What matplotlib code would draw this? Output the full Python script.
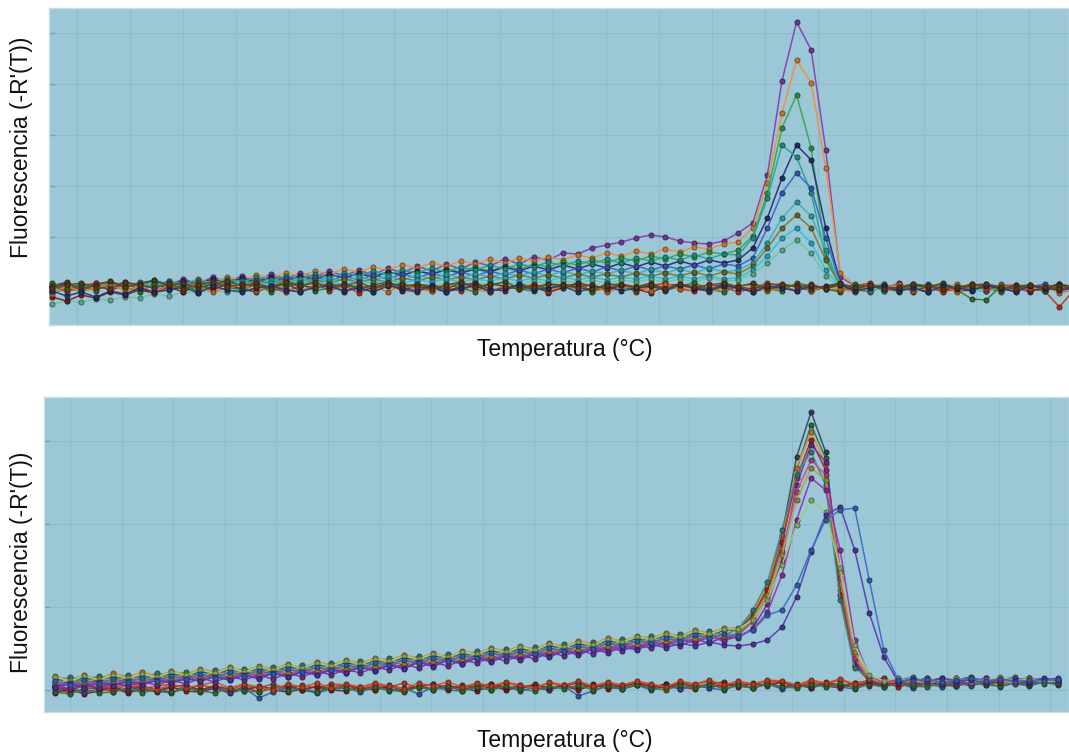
import numpy as np
import matplotlib
matplotlib.use("Agg")
import matplotlib.pyplot as plt

# ---------------- data ----------------
# temperature grid (deg C), 0.5 deg steps
temp_top = [60 + 0.5 * k for k in range(71)]
temp_bottom = [60 + 0.5 * k for k in range(70)]

# ---- top panel: positive samples (-dF/dT, arbitrary units) ----
top_pos_1 = [0, 4, -2, 5, 1, 6, 2, 8, 3, 9,
             4, 11, 6, 12, 7, 14, 9, 15, 11, 17,
             12, 18, 13, 20, 15, 22, 17, 24, 19, 26,
             22, 29, 24, 31, 28, 35, 34, 40, 43, 46,
             50, 53, 51, 47, 45, 44, 47, 55, 65, 113,
             207, 266, 238, 138, 11, 2, -3, 3, -1, 4,
             -2, 3, -1, 4, -3, 2, 0, -4, 3, -1,
             2]
top_pos_2 = [-3, 2, -1, 4, 2, 0, 5, 2, 7, 4,
             9, 6, 11, 8, 13, 10, 15, 12, 17, 14,
             19, 16, 21, 18, 23, 20, 25, 22, 27, 24,
             29, 25, 30, 27, 31, 28, 33, 30, 35, 32,
             37, 34, 39, 36, 41, 39, 44, 46, 60, 105,
             175, 228, 205, 120, 15, 3, -2, 4, -1, 2,
             -3, 1, 4, -1, -3, 2, 3, -2, 1, 4,
             0]
top_pos_3 = [-5, -1, -3, 3, -2, 4, 0, 5, 1, 6,
             2, 7, 4, 8, 5, 10, 7, 11, 8, 13,
             10, 14, 11, 16, 13, 17, 14, 19, 16, 21,
             17, 22, 19, 24, 21, 26, 23, 28, 25, 30,
             27, 32, 29, 34, 31, 36, 34, 38, 52, 95,
             160, 193, 140, 35, 3, -1, -4, 2, -2, 1,
             3, -2, -1, 4, -2, 2, -3, 1, 3, -2,
             0]
top_pos_4 = [1, 5, 0, 4, 6, 1, 5, 7, 3, 7,
             4, 9, 5, 10, 6, 11, 8, 12, 9, 14,
             10, 15, 11, 16, 13, 17, 14, 18, 15, 19,
             16, 21, 17, 22, 18, 23, 19, 24, 20, 25,
             21, 26, 22, 27, 23, 28, 25, 28, 40, 70,
             110, 143, 128, 60, 5, -2, 3, -3, 4, -1,
             -4, 2, 1, -3, 4, -1, -3, 2, 0, 4,
             -1]
top_pos_5 = [-2, 2, 3, 0, 5, 1, 6, 2, 7, 4,
             8, 5, 9, 6, 11, 8, 12, 9, 14, 10,
             15, 12, 17, 13, 18, 15, 20, 16, 21, 18,
             23, 19, 24, 21, 26, 22, 27, 24, 29, 25,
             30, 27, 31, 28, 33, 29, 34, 33, 50, 90,
             143, 131, 95, 30, 2, -3, 1, 4, -3, 1,
             3, -2, -1, 3, 1, -4, 2, 0, -3, 3,
             0]
top_pos_6 = [2, -2, 4, -1, 3, 5, 1, 4, 6, 2,
             6, 3, 7, 4, 8, 5, 10, 6, 11, 7,
             12, 8, 13, 9, 14, 10, 15, 11, 16, 12,
             17, 13, 18, 14, 19, 15, 20, 16, 21, 17,
             22, 18, 22, 19, 23, 19, 24, 22, 30, 60,
             95, 115, 100, 50, 4, -2, -3, 2, 1, -3,
             4, 0, -3, 2, -1, 3, -2, 1, 4, -3,
             0]
top_pos_7 = [-4, 0, -2, 3, -1, 4, 0, 5, 1, 5,
             2, 6, 3, 7, 4, 8, 5, 9, 6, 10,
             7, 11, 8, 12, 8, 13, 9, 14, 10, 14,
             11, 15, 12, 16, 12, 17, 13, 17, 14, 18,
             14, 19, 15, 19, 15, 20, 16, 18, 25, 45,
             70, 86, 72, 38, 3, -2, 3, -3, 1, 3,
             -1, -3, 2, 0, -3, 4, 1, 2, -3, 1,
             2]
top_pos_8 = [1, -1, 1, 3, -1, 3, 4, 0, 5, 2,
             5, 2, 6, 3, 7, 4, 7, 4, 8, 5,
             9, 6, 9, 6, 10, 7, 11, 8, 11, 8,
             12, 9, 13, 10, 13, 10, 14, 11, 14, 11,
             15, 12, 15, 12, 16, 12, 16, 14, 22, 40,
             60, 73, 60, 28, 2, -2, -3, 3, -1, 1,
             2, -3, 1, 3, -1, -3, 2, 0, -2, 3,
             -2]
top_pos_9 = [-3, 1, -2, 2, -1, 3, 0, 3, 1, 4,
             1, 4, 2, 5, 2, 5, 3, 6, 4, 6,
             4, 7, 5, 8, 5, 8, 6, 9, 6, 9,
             7, 10, 7, 10, 7, 11, 8, 11, 8, 11,
             9, 12, 9, 12, 9, 12, 9, 10, 18, 32,
             50, 60, 45, 18, 1, -2, 2, -3, 1, 3,
             -3, 1, 2, -2, -3, 1, 3, -1, -2, 2,
             0]
top_pos_10 = [-16, -13, -14, -11, -12, -9, -10, -6, -8, -4,
              -5, -2, -4, -1, -2, 0, -1, 1, 0, 2,
              1, 3, 1, 4, 2, 4, 2, 5, 3, 6,
              3, 6, 4, 7, 4, 7, 5, 8, 5, 8,
              6, 9, 6, 9, 6, 10, 7, 8, 14, 25,
              38, 48, 35, 12, 0, 2, -2, 1, 2, -1,
              -2, 2, 0, 1, -3, 2, 0, -2, 1, 2,
              0]

# ---- top panel: negative samples ----
top_neg_1 = [3, -4, 2, 5, -3, 4, -1, -4, 3, 5,
             -4, 1, 4, -2, 5, 0, -4, 2, 5, -3,
             3, -5, 1, 4, -2, -4, 3, 0, -3, 4,
             -4, 2, -1, 4, -5, 2, 4, -3, 0, 3,
             -4, 2, 5, -1, -3, 4, 1, -4, 0, 5,
             2, -3, 4, -1, -4, 2, 5, -1, -3, 3,
             2, -4, 0, 4, -2, 2, 3, -1, -3, -19,
             -2]
top_neg_2 = [-9, -13, -7, -10, -4, -7, -2, -5, 1, -4,
             3, -2, 4, -1, -4, 2, 5, -3, 1, 4,
             -4, 2, -1, 5, -3, 3, 0, -4, 2, 5,
             -1, -3, 4, 1, -4, 0, 5, 2, -3, 3,
             -1, -5, 2, 4, -1, -3, 5, 1, -4, 0,
             3, 2, -3, 1, 4, -3, 2, -1, 5, -4,
             2, 0, -3, -2, 3, -1, 2, -3, 0, 4,
             1]
top_neg_3 = [5, -1, 3, -3, 6, 1, -4, 4, -1, 3,
             -3, 5, 1, -2, 4, -4, 2, 5, -3, 0,
             4, 1, -4, 5, -1, 2, -3, 4, 0, -4,
             5, 1, -1, -3, 4, 0, 2, -4, 5, 1,
             -2, 4, -3, 2, 5, -1, -4, 2, 4, -1,
             -3, 5, 2, -1, -3, 4, 0, 2, -4, 3,
             0, 4, -2, -11, -12, 2, -1, 3, -3, 2,
             0]
top_neg_4 = [-6, 2, -4, 0, 4, -3, 2, -5, 3, -1,
             2, -4, 0, 4, -3, 2, -1, -4, 3, 2,
             -3, 0, 2, -4, 4, -1, -3, 2, 5, -1,
             -4, 2, 0, 4, -3, 2, -1, 4, -4, 0,
             2, -3, 4, -1, 2, -4, 0, 3, 2, -3,
             0, 4, -3, 2, -1, -4, 2, 0, 4, -3,
             -1, 2, -4, 2, 0, 3, -3, 0, 2, -5,
             -2]
top_neg_5 = [2, 6, -2, 3, 7, 1, 4, 8, 2, 5,
             0, 4, 7, 2, 5, 0, 4, 2, 6, 0,
             4, -1, 3, 6, 1, 4, 2, -1, 5, 1,
             3, 6, 0, 3, -1, 4, 1, 3, -1, 3,
             1, 5, -1, 3, 1, -1, 3, 1, 5, -1,
             1, 3, -1, 2, 5, -1, 3, 1, -1, 3,
             1, 5, -1, 2, 3, -1, 2, 3, -1, 2,
             0]
top_neg_6 = [-3, -8, -4, -9, -3, -6, 0, -4, -2, 1,
             -5, 2, -2, -4, 0, 2, -2, -4, 1, 2,
             -3, 0, -4, 2, 0, -3, 2, -4, 0, 2,
             -3, 0, 3, -2, 0, 2, -4, 0, 2, -3,
             0, 2, -2, 3, 0, -3, 2, 0, -4, 2,
             0, -3, 2, 0, 3, -3, 0, 2, -3, 0,
             -4, 2, 0, -2, 2, 0, -4, 2, 0, -2,
             0]
top_neg_7 = [0, 3, 5, 1, -1, 6, 3, 0, 4, -1,
             3, 6, 1, 4, 2, -1, 6, 3, 0, 4,
             2, 6, 0, 3, 4, 1, -1, 3, 6, 1,
             4, 2, -1, 1, 4, 3, 0, -1, 3, 4,
             1, 3, -1, 4, 1, 3, 5, 1, -1, 3,
             4, 1, 3, -1, 4, 1, 3, -1, 1, 4,
             2, -1, 1, 3, 4, 1, -1, 3, 1, -1,
             1]

# ---- bottom panel: positive samples ----
bot_pos_1 = [12, 6, 13, 8, 14, 9, 15, 10, 17, 12,
             19, 14, 21, 15, 22, 17, 24, 19, 26, 21,
             28, 23, 30, 26, 33, 28, 35, 30, 37, 33,
             40, 35, 42, 37, 45, 40, 47, 42, 50, 45,
             52, 48, 55, 50, 58, 53, 60, 60, 76, 102,
             155, 233, 278, 238, 100, 25, 12, 7, 11, 8,
             12, 7, 10, 13, 8, 11, 7, 12, 9, 11]
bot_pos_2 = [3, 8, 4, 9, 5, 10, 6, 12, 8, 13,
             9, 15, 11, 16, 12, 18, 14, 20, 16, 22,
             18, 24, 20, 27, 22, 29, 25, 31, 27, 34,
             30, 36, 32, 38, 35, 41, 37, 43, 40, 46,
             42, 49, 45, 51, 48, 54, 50, 56, 70, 96,
             145, 220, 265, 232, 105, 28, 10, 6, 11, 7,
             10, 6, 12, 8, 11, 7, 10, 12, 6, 9]
bot_pos_3 = [14, 10, 15, 11, 17, 13, 18, 14, 19, 16,
             21, 18, 23, 19, 24, 21, 26, 22, 28, 25,
             30, 27, 32, 30, 35, 32, 37, 33, 39, 37,
             42, 39, 44, 41, 47, 44, 49, 46, 52, 49,
             54, 52, 57, 54, 60, 57, 62, 62, 78, 104,
             150, 222, 258, 226, 110, 35, 13, 8, 12, 7,
             11, 8, 12, 9, 7, 11, 9, 12, 8, 10]
bot_pos_4 = [4, 9, 5, 11, 7, 12, 8, 13, 10, 15,
             11, 17, 13, 18, 14, 20, 16, 22, 18, 24,
             20, 26, 22, 29, 25, 31, 27, 33, 29, 36,
             32, 38, 34, 40, 37, 43, 39, 45, 42, 48,
             44, 51, 47, 53, 50, 56, 52, 57, 74, 100,
             148, 212, 250, 220, 95, 24, 9, 12, 7, 10,
             8, 11, 7, 12, 9, 8, 11, 7, 10, 9]
bot_pos_5 = [5, 1, 6, 2, 7, 4, 8, 5, 10, 6,
             12, 8, 14, 10, 15, 11, 17, 13, 19, 15,
             21, 17, 23, 20, 26, 22, 28, 24, 30, 27,
             33, 29, 35, 31, 38, 34, 40, 36, 43, 39,
             45, 42, 48, 44, 51, 47, 53, 52, 62, 86,
             130, 205, 245, 228, 120, 30, 10, 7, 11, 8,
             9, 12, 6, 10, 8, 12, 7, 10, 11, 7]
bot_pos_6 = [8, 13, 9, 14, 10, 15, 11, 17, 13, 18,
             14, 20, 16, 21, 17, 23, 19, 25, 21, 27,
             23, 29, 25, 32, 28, 34, 30, 36, 32, 39,
             35, 41, 37, 43, 40, 46, 42, 48, 45, 51,
             47, 54, 50, 56, 53, 59, 55, 61, 80, 108,
             160, 215, 238, 205, 90, 22, 12, 8, 10, 13,
             7, 11, 9, 12, 8, 10, 13, 8, 11, 9]
bot_pos_7 = [8, 4, 9, 5, 10, 7, 11, 8, 13, 10,
             15, 12, 17, 13, 18, 15, 20, 17, 22, 19,
             24, 21, 26, 24, 29, 26, 31, 28, 33, 31,
             36, 33, 38, 35, 41, 38, 43, 40, 46, 43,
             48, 46, 51, 48, 54, 51, 56, 55, 68, 92,
             138, 198, 230, 215, 112, 32, 11, 7, 10, 8,
             10, 7, 11, 8, 12, 10, 7, 11, 8, 10]
bot_pos_8 = [6, 10, 7, 12, 8, 13, 9, 14, 11, 16,
             13, 18, 14, 20, 16, 21, 17, 23, 19, 25,
             21, 27, 23, 30, 26, 32, 28, 34, 30, 37,
             33, 39, 35, 41, 38, 44, 40, 46, 43, 49,
             45, 52, 48, 54, 51, 57, 53, 58, 72, 95,
             135, 190, 222, 210, 118, 38, 12, 8, 11, 9,
             7, 10, 12, 8, 11, 9, 7, 11, 10, 8]
bot_pos_9 = [2, 6, 3, 7, 4, 9, 5, 10, 7, 12,
             9, 14, 10, 15, 12, 17, 13, 19, 15, 21,
             17, 23, 19, 26, 22, 28, 24, 30, 26, 33,
             29, 35, 31, 37, 34, 40, 36, 42, 39, 45,
             41, 48, 44, 50, 47, 53, 49, 54, 60, 78,
             115, 170, 212, 200, 140, 50, 14, 8, 11, 9,
             11, 8, 10, 7, 12, 9, 11, 8, 10, 12]
bot_pos_10 = [13, 9, 14, 10, 15, 12, 16, 13, 18, 15,
              20, 17, 22, 18, 23, 20, 25, 22, 27, 24,
              29, 26, 31, 29, 34, 31, 36, 33, 38, 36,
              41, 38, 43, 40, 46, 43, 48, 45, 51, 48,
              53, 51, 56, 53, 59, 56, 61, 61, 70, 90,
              125, 165, 190, 178, 122, 45, 15, 9, 12, 8,
              11, 9, 12, 8, 10, 13, 9, 11, 8, 10]
bot_pos_11 = [3, 7, 2, 8, 4, 9, 5, 10, 7, 11,
              9, 13, 10, 15, 11, 17, 13, 18, 15, 20,
              17, 23, 19, 25, 21, 28, 23, 30, 26, 32,
              28, 34, 30, 36, 33, 39, 35, 41, 37, 43,
              40, 46, 42, 47, 44, 48, 45, 44, 46, 50,
              63, 93, 138, 175, 183, 140, 77, 33, 8, 11,
              8, 12, 9, 10, 7, 11, 9, 8, 12, 9]
bot_pos_12 = [9, 5, 10, 6, 11, 8, 12, 9, 14, 11,
              16, 12, 18, 14, 19, 16, 21, 18, 23, 20,
              25, 22, 27, 25, 30, 27, 32, 29, 34, 32,
              37, 34, 39, 36, 42, 39, 44, 41, 47, 44,
              49, 47, 52, 49, 55, 52, 56, 54, 60, 75,
              80, 105, 140, 170, 180, 182, 110, 40, 10, 9,
              11, 8, 10, 12, 9, 11, 8, 10, 9, 11]

# ---- bottom panel: negative samples ----
bot_neg_1 = [2, -3, 1, 3, -2, 2, 4, -1, -2, 3,
             0, 4, -2, 3, -2, 2, 4, 0, -2, 3,
             5, 0, 4, 1, -1, 4, 1, 5, 0, 4,
             6, 1, 5, 2, 0, 5, 2, 6, 1, 5,
             7, 2, 6, 3, 1, 6, 3, 7, 2, 6,
             8, 3, 7, 4, 2, 7, 4, 8, 3, 7,
             9, 4, 8, 5, 10, 6, 10, 5, 9, 10]
bot_neg_2 = [-3, 1, -4, -1, 2, -3, 1, -2, 3, -1,
             -2, 2, -3, 1, 3, 0, -2, 1, 3, 0,
             -1, 3, 0, 4, -1, 3, 0, 4, 2, -1,
             4, 0, 3, 5, 1, 4, 0, 5, 3, 1,
             5, 2, 6, 1, 5, 2, 6, 4, 2, 7,
             3, 6, 2, 7, 5, 3, 8, 4, 7, 3,
             8, 5, 4, 8, 5, 9, 6, 5, 9, 6]
bot_neg_3 = [5, 1, 6, 2, 0, 5, 1, 4, 6, 1,
             5, 2, 0, 5, 2, 6, 1, 5, 2, 6,
             5, 1, 6, 3, 7, 2, 6, 3, 1, 6,
             3, 7, 4, 2, 7, 4, 8, 3, 7, 4,
             8, 5, 3, 8, 5, 9, 4, 8, 5, 9,
             8, 4, 9, 6, 10, 5, 9, 6, 10, 7,
             11, 6, 10, 7, 11, 8, 7, 11, 8, 10]
bot_neg_4 = [-1, 2, -2, 1, 3, -2, 2, -1, -3, 2,
             -1, 3, -2, 2, -8, -2, 3, 0, -3, 1,
             2, -2, 3, -1, 2, -4, 3, 0, -1, 3,
             0, 4, -1, 3, 0, 4, -6, -1, 4, 1,
             5, 0, 4, 1, 5, 2, 0, 5, 2, 6,
             1, 5, 2, 6, 3, 1, 6, 3, 7, 2,
             6, 3, 7, 4, 8, 3, 7, 4, 8, 5]
bot_neg_5 = [3, 0, 4, 1, 3, -1, 4, 0, 3, 5,
             0, 4, 1, -1, 4, 1, 5, 0, 4, 1,
             5, 2, 0, 5, 1, 4, 6, 1, 5, 2,
             6, 3, 1, 6, 2, 5, 7, 2, 6, 3,
             7, 4, 2, 7, 3, 6, 8, 3, 7, 4,
             8, 5, 3, 8, 4, 7, 9, 4, 8, 5,
             9, 6, 4, 9, 6, 10, 7, 6, 10, 7]
bot_neg_6 = [-2, -4, 1, -3, -2, 2, -3, 1, -2, 2,
             -1, -3, 2, -1, -2, 3, -1, 2, -2, 3,
             2, -1, 3, 0, -2, 3, 0, 4, -1, 3,
             0, 4, 1, -1, 4, 1, 5, 0, 4, 1,
             5, 2, 0, 5, 2, 6, 1, 5, 2, 6,
             3, 2, 6, 3, 7, 2, 6, 3, 7, 4,
             3, 7, 4, 8, 5, 4, 8, 5, 9, 6]
bot_neg_7 = [4, 7, 1, 5, 2, 7, 3, 0, 6, 2,
             5, 8, 2, 6, 3, 0, 6, 3, 7, 2,
             6, 3, 7, 4, 1, 7, 4, 8, 3, 7,
             4, 8, 5, 2, 8, 5, 9, 4, 8, 5,
             9, 6, 3, 9, 6, 10, 5, 9, 6, 10,
             9, 5, 10, 7, 11, 6, 10, 7, 11, 8,
             12, 7, 11, 8, 12, 9, 8, 12, 9, 8]

top_positive = [top_pos_1, top_pos_2, top_pos_3, top_pos_4, top_pos_5,
                top_pos_6, top_pos_7, top_pos_8, top_pos_9, top_pos_10]
top_negative = [top_neg_1, top_neg_2, top_neg_3, top_neg_4, top_neg_5, top_neg_6, top_neg_7]
bot_positive = [bot_pos_1, bot_pos_2, bot_pos_3, bot_pos_4, bot_pos_5, bot_pos_6,
                bot_pos_7, bot_pos_8, bot_pos_9, bot_pos_10, bot_pos_11, bot_pos_12]
bot_negative = [bot_neg_1, bot_neg_2, bot_neg_3, bot_neg_4, bot_neg_5, bot_neg_6, bot_neg_7]

x_label = "Temperatura (°C)"
y_label = "Fluorescencia (-R'(T))"

# ---------------- style ----------------
top_pos_colors = ["#8a3fb0", "#f0903a", "#3aa84a", "#2a2f6e", "#2aa58e",
                  "#3a66d0", "#38b5b8", "#7d7a30", "#2cc3d6", "#6cc7a2"]
top_neg_colors = ["#c8322a", "#7a2222", "#2f7f35", "#e0762a", "#4f5222", "#263a78", "#6a4424"]
bot_pos_colors = ["#3a4a5a", "#2f7a45", "#e8862e", "#b02a2a", "#7a2fa8", "#3a8f88",
                  "#d04a90", "#b5a23a", "#a030b0", "#9ccc7a", "#5a3ab0", "#3a6fc8"]
bot_neg_colors = ["#b02020", "#7a1f2a", "#c8402a", "#3a5fa8", "#8a2a2a", "#3a7a3a", "#d0502a"]

BG = "#9bc7d7"
GRID = "#8cbccd"


def darker(c, f=0.5):
    r, g, b = matplotlib.colors.to_rgb(c)
    return (r * f, g * f, b * f)


def draw(ax, temps, series, colors, lw=1.1):
    for vals, col in zip(series, colors):
        n = min(len(vals), len(temps))
        ax.plot(temps[:n], vals[:n], color=col, lw=lw, alpha=0.95,
                marker="o", ms=3.6, mfc=darker(col, 0.8), mec=darker(col, 0.5),
                mew=0.7, zorder=3)


fig = plt.figure(figsize=(10.69, 7.55), dpi=100)
W, H = 1069, 755


def axes_px(l, t, r, b):
    return fig.add_axes([l / W, 1 - b / H, (r - l) / W, (b - t) / H])


ax1 = axes_px(49, 8, 1069, 325)
ax2 = axes_px(44, 397, 1069, 712)

for ax in (ax1, ax2):
    ax.set_facecolor(BG)
    for s in ax.spines.values():
        s.set_color("#c9dde4")
        s.set_linewidth(1.0)
    ax.tick_params(axis="both", which="both", labelbottom=False, labelleft=False,
                   bottom=False, left=True, direction="in", length=4, color="#7f9ea9", width=1)
    ax.grid(True, color=GRID, lw=0.8, zorder=0)
    ax.set_axisbelow(True)

# top panel scales
ax1.set_xlim(59.897, 94.83)
ax1.set_ylim(-37, 280)
ax1.set_xticks(np.arange(60.856, 95, 1.812))
ax1.set_yticks([0, 51, 102, 153, 204, 255])

draw(ax1, temp_top, top_positive, top_pos_colors)
draw(ax1, temp_top, top_negative, top_neg_colors)

# bottom panel scales
ax2.set_xlim(59.62, 94.87)
ax2.set_ylim(-22, 293)
ax2.set_xticks(np.arange(60.516, 95, 1.774))
ax2.set_yticks([0, 83, 166, 249])

draw(ax2, temp_bottom, bot_negative, bot_neg_colors)
draw(ax2, temp_bottom, bot_positive, bot_pos_colors)

font = dict(family="Liberation Sans", size=16.5, color="#111111")
fig.text(565 / W, 1 - 350 / H, x_label, ha="center", va="center", **font)
fig.text(565 / W, 1 - 740 / H, x_label, ha="center", va="center", **font)
fig.text(22 / W, 1 - 147 / H, y_label, ha="center", va="center", rotation=90, **font)
fig.text(22 / W, 1 - 562 / H, y_label, ha="center", va="center", rotation=90, **font)

fig.savefig("out.png", dpi=100, facecolor="white")
